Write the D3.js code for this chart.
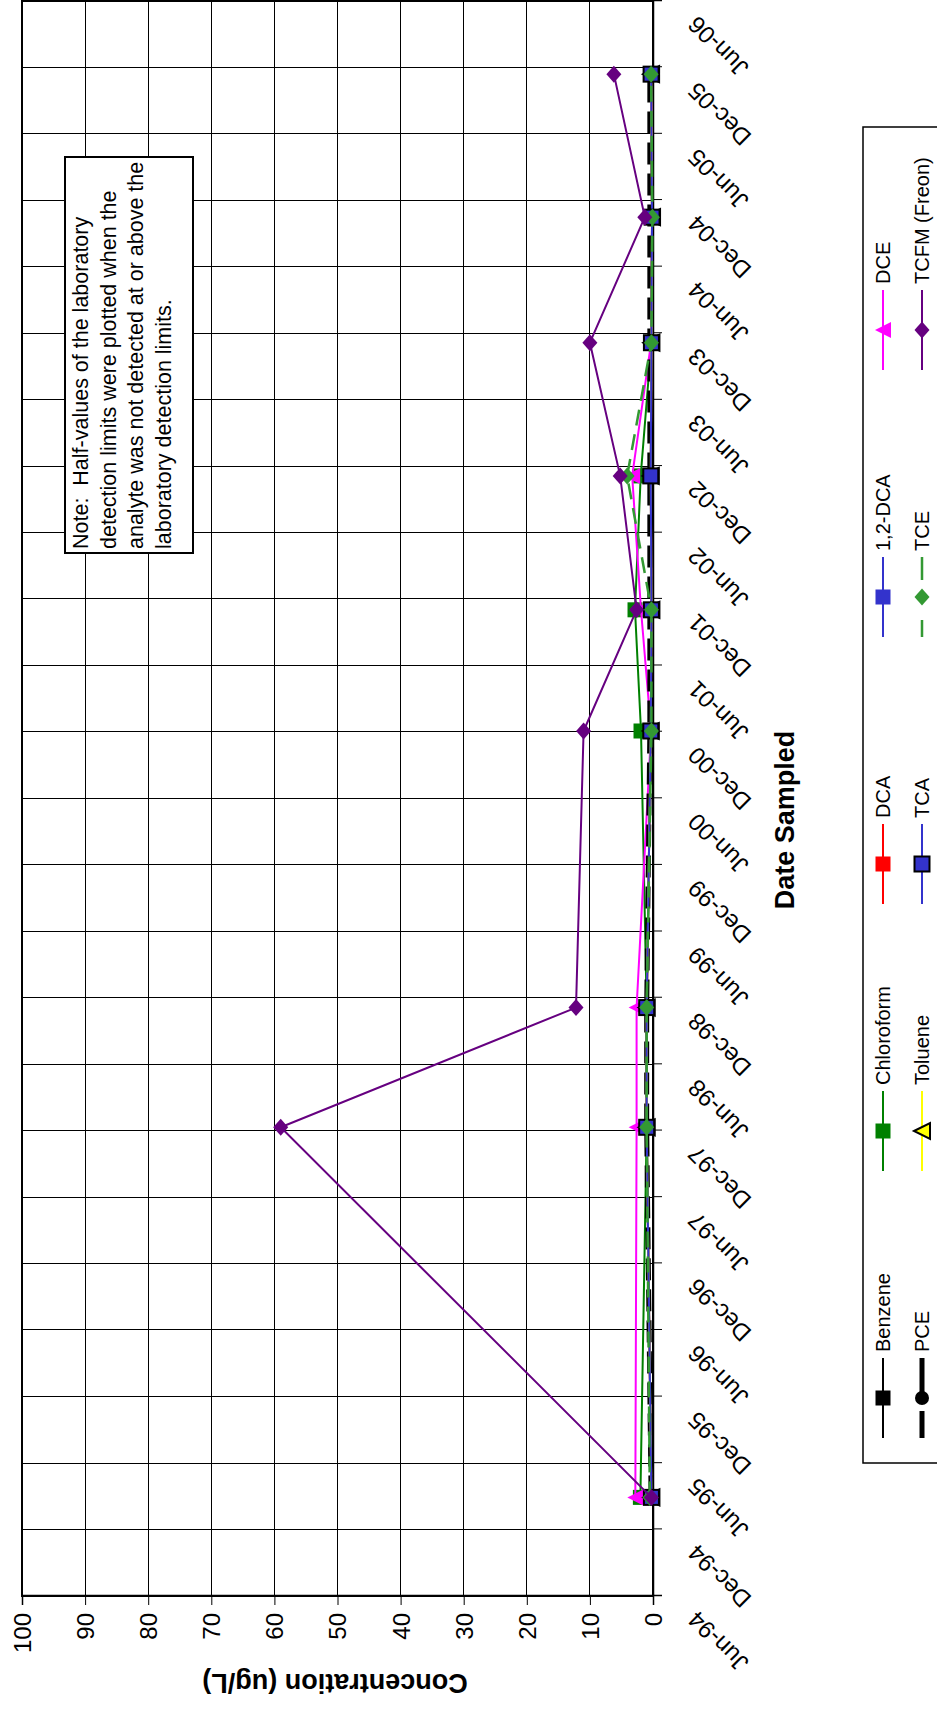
<!DOCTYPE html>
<html>
<head>
<meta charset="utf-8">
<script src="https://cdn.jsdelivr.net/npm/d3@7"></script>
<style>
  body { margin: 0; background: #fff; }
  svg { display: block; font-family: "Liberation Sans", Arial, sans-serif; }
</style>
</head>
<body>
<svg id="chart" width="937" height="1736"></svg>
<script>
// ---------- data ----------
const sampleDates = ["1995-02-27","1997-12-10","1998-11-04","2000-12-03","2001-11-01","2002-11-04","2003-11-05","2004-10-15","2005-11-12"];
const benzene    = [0.25, 1.0, 1.0, 0.35, 0.25, 0.35, 0.25, 0.15, 0.3];
const chloroform = [2.0, 1.0, 1.0, 1.9, 2.85, 1.95, 0.25, 0.15, 0.3];
const dca        = [0.25, 1.0, 1.0, 0.35, 0.25, 0.35, 0.25, 0.15, 0.3];
const dca12      = [0.25, 1.0, 1.0, 0.35, 0.25, 0.35, 0.25, 0.15, 0.3];
const dce        = [2.8, 2.6, 2.6, 0.3, 1.9, 3.3, 0.3, 0.15, 0.3];
const pce        = [0.3, 1.0, 1.0, 0.5, 0.5, 0.5, 0.5, 0.5, 0.5];
const toluene    = [0.25, 1.0, 1.0, 0.35, 0.25, 0.35, 0.25, 0.15, 0.3];
const tca        = [0.25, 1.0, 1.0, 0.35, 0.25, 0.35, 0.25, 0.15, 0.3];
const tce        = [0.5, 1.0, 1.0, 0.25, 0.25, 4.1, 0.25, 0.1, 0.3];
const tcfm       = [0.25, 59, 12.2, 11.0, 2.6, 5.2, 10.0, 1.3, 6.2];

const seriesNames = ["Benzene","Chloroform","DCA","1,2-DCA","DCE","PCE","Toluene","TCA","TCE","TCFM (Freon)"];
const seriesValues = [benzene, chloroform, dca, dca12, dce, pce, toluene, tca, tce, tcfm];

const dateTickLabels = ["Jun-94","Dec-94","Jun-95","Dec-95","Jun-96","Dec-96","Jun-97","Dec-97","Jun-98","Dec-98","Jun-99","Dec-99","Jun-00","Dec-00","Jun-01","Dec-01","Jun-02","Dec-02","Jun-03","Dec-03","Jun-04","Dec-04","Jun-05","Dec-05","Jun-06"];
const concTicks = [0,10,20,30,40,50,60,70,80,90,100];
const noteLines = ["Note:  Half-values of the laboratory","detection limits were plotted when the","analyte was not detected at or above the","laboratory detection limits."];

// ---------- styles ----------
const styles = [
  {color:"#000000", marker:"square",   fill:"#000000", mstroke:"none",    width:2,   dash:null,   legDash:null},
  {color:"#008000", marker:"square",   fill:"#008000", mstroke:"none",    width:2,   dash:null,   legDash:null},
  {color:"#FF0000", marker:"square",   fill:"#FF0000", mstroke:"none",    width:2,   dash:null,   legDash:null},
  {color:"#3333CC", marker:"square",   fill:"#3333CC", mstroke:"none",    width:2,   dash:null,   legDash:null},
  {color:"#FF00FF", marker:"triangle", fill:"#FF00FF", mstroke:"none",    width:2,   dash:null,   legDash:null},
  {color:"#000000", marker:"circle",   fill:"#000000", mstroke:"none",    width:5,   dash:"22,9", legDash:"27,9,60"},
  {color:"#FFFF00", marker:"triangle", fill:"#FFFF00", mstroke:"#000000", width:2,   dash:null,   legDash:null},
  {color:"#3333CC", marker:"square",   fill:"#3333CC", mstroke:"#000000", width:2,   dash:null,   legDash:null},
  {color:"#339933", marker:"diamond",  fill:"#339933", mstroke:"none",    width:2.5, dash:"16,9", legDash:"17,40,23"},
  {color:"#660080", marker:"diamond",  fill:"#660080", mstroke:"none",    width:2,   dash:null,   legDash:null}
];

const W = 1736;
const svg = d3.select("#chart");
svg.append("rect").attr("width",937).attr("height",1736).attr("fill","#fff");
// whole chart drawn in landscape orientation, then rotated
const root = svg.append("g").attr("transform", `translate(0,${W}) rotate(-90)`);

const parse = d3.timeParse("%Y-%m-%d");
const tickParse = d3.timeParse("%b-%y");
const tickDates = dateTickLabels.map(tickParse);
const dates = sampleDates.map(parse);

const plot = {left:140, right:1735, top:22, bottom:653};
const x = d3.scaleTime().domain([tickDates[0], tickDates[tickDates.length-1]]).range([plot.left, plot.right]);
const y = d3.scaleLinear().domain([0,100]).range([plot.bottom, plot.top]);

// gridlines
const grid = root.append("g").attr("shape-rendering","crispEdges");
grid.selectAll("line.v").data(tickDates).join("line")
  .attr("x1", d=>x(d)).attr("x2", d=>x(d)).attr("y1", plot.top).attr("y2", plot.bottom)
  .attr("stroke","#000").attr("stroke-width",1);
grid.selectAll("line.h").data(concTicks).join("line")
  .attr("x1", plot.left).attr("x2", plot.right).attr("y1", d=>y(d)).attr("y2", d=>y(d))
  .attr("stroke","#000").attr("stroke-width",1);
grid.append("rect").attr("x",plot.left).attr("y",plot.top).attr("width",plot.right-plot.left).attr("height",plot.bottom-plot.top)
  .attr("fill","none").attr("stroke","#000").attr("stroke-width",1.5);

// axes
const xAxis = d3.axisBottom(x).tickValues(tickDates).tickSize(9).tickFormat((d,i)=>dateTickLabels[i]);
const gx = root.append("g").attr("transform",`translate(0,${plot.bottom})`).call(xAxis);
gx.select(".domain").attr("stroke","#000").attr("stroke-width",1.5);
gx.selectAll(".tick line").attr("stroke","#000").attr("stroke-width",1);
gx.selectAll(".tick text")
  .attr("x",0).attr("y",0).attr("dy",0)
  .attr("text-anchor","end")
  .attr("transform","translate(-14,45) rotate(-45)")
  .attr("font-size",24).attr("font-family","Liberation Sans, Arial, sans-serif").attr("fill","#000");

const yAxis = d3.axisLeft(y).tickValues(concTicks).tickSize(9).tickPadding(8);
const gy = root.append("g").attr("transform",`translate(${plot.left},0)`).call(yAxis);
gy.select(".domain").attr("stroke","#000").attr("stroke-width",1.5);
gy.selectAll(".tick line").attr("stroke","#000");
gy.selectAll(".tick text").attr("dy","0.35em")
  .attr("font-size",24).attr("font-family","Liberation Sans, Arial, sans-serif").attr("fill","#000");

// markers
function drawMarker(g, type, cx, cy, st){
  let el;
  if(type==="square"){
    el = g.append("rect").attr("x",cx-7.5).attr("y",cy-7.5).attr("width",15).attr("height",15);
  } else if(type==="circle"){
    el = g.append("circle").attr("cx",cx).attr("cy",cy).attr("r",7);
  } else if(type==="triangle"){
    el = g.append("path").attr("d",`M${cx},${cy-8}L${cx+8},${cy+8}L${cx-8},${cy+8}Z`);
  } else {
    el = g.append("path").attr("d",`M${cx},${cy-7.5}L${cx+8.5},${cy}L${cx},${cy+7.5}L${cx-8.5},${cy}Z`);
  }
  el.attr("fill",st.fill);
  if(st.mstroke!=="none") el.attr("stroke",st.mstroke).attr("stroke-width",2); else el.attr("stroke","none");
}

// series
const line = d3.line().x(d=>x(d.date)).y(d=>y(d.v));
seriesValues.forEach((vals,i)=>{
  const st = styles[i];
  const pts = vals.map((v,j)=>({date:dates[j], v}));
  const g = root.append("g");
  const p = g.append("path").datum(pts).attr("d",line).attr("fill","none")
    .attr("stroke",st.color).attr("stroke-width",st.width).attr("stroke-linejoin","round");
  if(st.dash) p.attr("stroke-dasharray",st.dash);
  pts.forEach(d=>drawMarker(g, st.marker, x(d.date), y(d.v), st));
});

// note box
const note = root.append("g");
note.append("rect").attr("x",1183).attr("y",65).attr("width",396).attr("height",128)
  .attr("fill","#fff").attr("stroke","#000").attr("stroke-width",2);
note.selectAll("text").data(noteLines).join("text")
  .attr("x",1187).attr("y",(d,i)=>88+i*27.5)
  .attr("xml:space","preserve").style("white-space","pre")
  .attr("font-size",21.5).attr("fill","#000").text(d=>d);

// axis titles
root.append("text").attr("transform",`translate(53,335) rotate(-90)`)
  .attr("text-anchor","middle").attr("dy","0.35em")
  .attr("font-size",27).attr("font-weight","bold").text("Concentration (ug/L)");
root.append("text").attr("x",916).attr("y",785)
  .attr("text-anchor","middle").attr("dy","0.35em")
  .attr("font-size",27).attr("font-weight","bold").text("Date Sampled");

// legend
const leg = root.append("g");
leg.append("rect").attr("x",273).attr("y",863).attr("width",1336).attr("height",140)
  .attr("fill","#fff").attr("stroke","#000").attr("stroke-width",1.5);
const colX = [338,605,872,1139,1406];
const rowY = [883,922];
seriesNames.forEach((name,i)=>{
  const st = styles[i];
  const cx = colX[i%5], cy = rowY[Math.floor(i/5)];
  const lg = leg.append("g");
  const l = lg.append("line").attr("x1",cx-40).attr("x2",cx+40).attr("y1",cy).attr("y2",cy)
    .attr("stroke",st.color).attr("stroke-width",st.width);
  if(st.legDash) l.attr("stroke-dasharray",st.legDash);
  drawMarker(lg, st.marker, cx, cy, st);
  lg.append("text").attr("x",cx+46).attr("y",cy).attr("dy","0.35em")
    .attr("font-size",20).attr("fill","#000").text(name);
});
</script>
</body>
</html>
